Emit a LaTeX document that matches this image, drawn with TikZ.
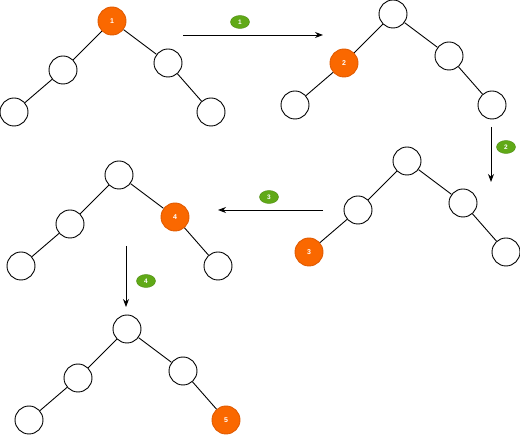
\documentclass[tikz,border=0pt]{standalone}
\usepackage{fontspec}
\setsansfont{Liberation Sans}
\usepackage{xcolor}
\usetikzlibrary{shapes.geometric,arrows.meta}

\begin{document}
\begin{tikzpicture}[x=1pt,y=-1pt,
  mynode/.style={circle,draw=black,fill=white,line width=0.9pt,minimum size=28,inner sep=0},
  hotnode/.style={mynode,draw=visitedge,fill=visited,text=white,font=\sffamily\bfseries\fontsize{7}{7}\selectfont},
  steplabel/.style={ellipse,draw=stepedge,fill=stepgreen,text=white,minimum width=19,minimum height=13,inner sep=0,font=\sffamily\bfseries\fontsize{6.5}{6.5}\selectfont},
  treeedge/.style={line width=0.9pt},
  steparrow/.style={line width=0.9pt,-{Stealth[length=8pt,width=6pt]}}]
\definecolor{visited}{HTML}{FA6800}
\definecolor{visitedge}{HTML}{E05A00}
\definecolor{stepgreen}{HTML}{60A917}
\definecolor{stepedge}{HTML}{4C8A10}
\useasboundingbox (0,0) rectangle (520,435);
  \foreach \t/\x/\y/\hot in {1/112/21/r,2/393/14/a,3/407/161/c,4/119/175/b,5/127/329/d}
  { \foreach \n/\dx/\dy in {r/0/0,a/-49/49,b/56/42,c/-98/91,d/99/91}
    { \ifx\n\hot \node [hotnode] (\n\t) at (\x+\dx,\y+\dy) {\t};
      \else \node [mynode] (\n\t) at (\x+\dx,\y+\dy) {}; \fi }
    \draw [treeedge] (r\t) -- (a\t) -- (c\t);
    \draw [treeedge] (r\t) -- (b\t) -- (d\t); }
% steps between the trees
\coordinate (s1) at (183,35);  \coordinate (e1) at (323,35);
\coordinate (s2) at (491,127); \coordinate (e2) at (491,182);
\coordinate (s3) at (323,210); \coordinate (e3) at (218,210);
\coordinate (s4) at (126,246); \coordinate (e4) at (126,307);
\foreach \k in {1,2,3,4}
  {\draw [steparrow] (s\k) -- (e\k);}
\node [steplabel] (l1) at (240,22) {1};
\node [steplabel] (l2) at (506,147) {2};
\node [steplabel] (l3) at (269,197) {3};
\node [steplabel] (l4) at (146,281) {4};
\end{tikzpicture}
\end{document}
